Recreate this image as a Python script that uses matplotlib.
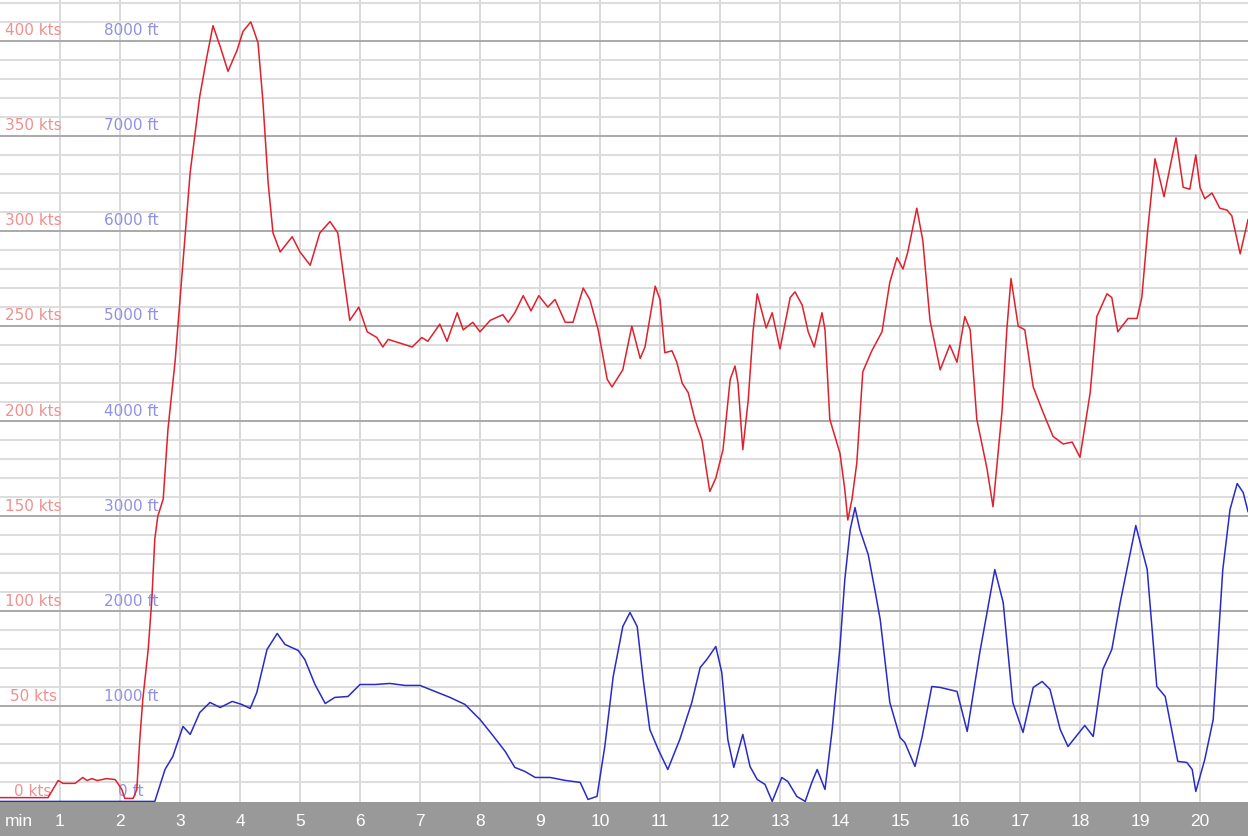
import matplotlib
matplotlib.use("Agg")
import matplotlib.pyplot as plt
import matplotlib.transforms as mtransforms
import numpy as np

# speed trace: minutes / knots
spd_t = [0, 0.8, 0.97, 1.05, 1.25, 1.38, 1.45, 1.53, 1.62, 1.78, 1.92, 2.03, 2.08, 2.22, 2.28,
         2.33, 2.38, 2.47, 2.53, 2.58, 2.63, 2.72, 2.8, 2.92, 3.0, 3.17, 3.33, 3.45, 3.55, 3.67,
         3.8, 3.95, 4.05, 4.18, 4.3, 4.38, 4.47, 4.55, 4.67, 4.87, 5.0, 5.17, 5.33, 5.5, 5.63,
         5.75, 5.83, 5.98, 6.12, 6.28, 6.38, 6.47, 6.67, 6.87, 7.03, 7.13, 7.33, 7.45, 7.62,
         7.72, 7.88, 8.0, 8.17, 8.38, 8.47, 8.58, 8.72, 8.85, 8.98, 9.13, 9.25, 9.42, 9.55,
         9.72, 9.83, 9.97, 10.12, 10.2, 10.38, 10.53, 10.67, 10.75, 10.92, 11.0, 11.08, 11.2,
         11.28, 11.37, 11.47, 11.58, 11.7, 11.77, 11.83, 11.93, 12.05, 12.17, 12.25, 12.3,
         12.38, 12.47, 12.55, 12.62, 12.77, 12.87, 13.0, 13.17, 13.25, 13.37, 13.47, 13.57,
         13.7, 13.75, 13.83, 14.0, 14.08, 14.13, 14.2, 14.28, 14.38, 14.53, 14.7, 14.83, 14.95,
         15.05, 15.13, 15.28, 15.38, 15.5, 15.67, 15.83, 15.95, 16.08, 16.17, 16.28, 16.45,
         16.55, 16.7, 16.78, 16.85, 16.97, 17.08, 17.22, 17.38, 17.55, 17.72, 17.87, 18.0,
         18.17, 18.28, 18.45, 18.53, 18.63, 18.8, 18.95, 19.03, 19.13, 19.25, 19.4, 19.6,
         19.72, 19.83, 19.93, 20.0, 20.08, 20.2, 20.33, 20.45, 20.53, 20.67, 20.8]
spd_kts = [2, 2, 11, 9.5, 9.5, 12.6, 11, 12, 11, 12, 11.5, 6.3, 1.6, 1.6, 6.3,
           32.6, 53.6, 80, 106, 138, 150, 159, 196, 232, 264, 331, 371, 392, 408, 397,
           384, 395, 405, 410, 399, 369, 325, 299, 289, 297, 289, 282, 299, 305, 299,
           271, 253, 260, 247, 244, 239, 243, 241, 239, 244, 242, 251, 242, 257,
           248, 252, 247, 253, 256, 252, 257, 266, 258, 266, 260, 264, 252, 252,
           270, 264, 248, 222, 218, 227, 250, 233, 239, 271, 264, 236, 237,
           231, 220, 215, 201, 190, 175, 163, 170, 185, 222, 229, 220,
           185, 211, 247, 267, 249, 257, 238, 265, 268, 261, 247, 239,
           257, 248, 201, 183, 164, 148, 159, 178, 226, 237, 247, 273, 286,
           280, 289, 312, 295, 253, 227, 240, 231, 255, 248, 201, 175,
           155, 205, 248, 275, 250, 248, 218, 205, 192, 188, 189, 181,
           215, 255, 267, 265, 247, 254, 254, 265, 301, 338, 318, 349,
           323, 322, 340, 323, 317, 320, 312, 311, 308, 288, 306]

# altitude trace: minutes / feet
alt_t = [0, 2.58, 2.75, 2.88, 3.05, 3.17, 3.33, 3.5, 3.67, 3.87, 4.03, 4.17, 4.28, 4.45,
         4.62, 4.75, 4.97, 5.08, 5.25, 5.42, 5.58, 5.8, 6.0, 6.25, 6.5, 6.75, 7.0, 7.25,
         7.5, 7.75, 8.0, 8.2, 8.42, 8.58, 8.75, 8.92, 9.17, 9.42, 9.67, 9.8, 9.95, 10.08,
         10.22, 10.38, 10.5, 10.62, 10.72, 10.83, 10.97, 11.13, 11.33, 11.53, 11.67, 11.78,
         11.93, 12.03, 12.13, 12.23, 12.38, 12.5, 12.62, 12.75, 12.87, 13.03, 13.13, 13.28,
         13.42, 13.53, 13.62, 13.75, 13.87, 14.0, 14.08, 14.17, 14.25, 14.33, 14.47, 14.58,
         14.67, 14.83, 15.0, 15.08, 15.25, 15.37, 15.53, 15.67, 15.95, 16.12, 16.33, 16.58,
         16.72, 16.88, 17.05, 17.22, 17.37, 17.5, 17.67, 17.8, 18.08, 18.22, 18.38, 18.53,
         18.67, 18.93, 19.12, 19.28, 19.42, 19.63, 19.78, 19.87, 19.93, 20.08, 20.22, 20.38,
         20.5, 20.62, 20.72, 20.8]
alt_ft = [0, 0, 336, 473, 789, 705, 936, 1041, 988, 1052, 1020, 978, 1146, 1598,
          1767, 1651, 1588, 1493, 1230, 1030, 1094, 1104, 1230, 1230, 1241, 1220, 1220, 1157,
          1094, 1020, 862, 705, 526, 358, 315, 252, 252, 221, 200, 21, 53, 578,
          1314, 1840, 1987, 1840, 1283, 757, 547, 336, 652, 1041, 1409, 1493,
          1630, 1356, 652, 358, 705, 368, 231, 179, 0, 252, 210, 53,
          0, 200, 336, 126, 757, 1630, 2334, 2860, 3091, 2860, 2597, 2229,
          1914, 1041, 673, 620, 368, 683, 1209, 1199, 1157, 736, 1567, 2439,
          2092, 1041, 726, 1199, 1262, 1178, 757, 578, 799, 683, 1388, 1598,
          2092, 2902, 2439, 1209, 1104, 421, 410, 336, 105, 442, 862, 2439,
          3070, 3344, 3249, 3049]

kts_labels = [0, 50, 100, 150, 200, 250, 300, 350, 400]
ft_labels = [0, 1000, 2000, 3000, 4000, 5000, 6000, 7000, 8000]
minute_ticks = list(range(1, 21))

W, H = 1248, 836
bar_h = 34
fig = plt.figure(figsize=(W / 100, H / 100), dpi=100)
ax = fig.add_axes([0, bar_h / H, 1, (H - bar_h) / H])
ax.set_xlim(0, 20.8)
ax.set_ylim(-0.3, 421.5)
ax.set_facecolor("white")
for s in ax.spines.values():
    s.set_visible(False)
ax.set_xticks([])
ax.set_yticks([])

# grid
for m in minute_ticks:
    ax.axvline(m, color="#d9d9d9", lw=1.4, zorder=0)
for v in range(10, 421, 10):
    if v % 50 == 0:
        ax.axhline(v, color="#a9a9a9", lw=1.4, zorder=0.5)
    else:
        ax.axhline(v, color="#dddddd", lw=1.4, zorder=0.2)

# axis labels inside plot
tr = mtransforms.blended_transform_factory(ax.transAxes, ax.transData)
for k, f in zip(kts_labels, ft_labels):
    ax.annotate(f"{k} kts", xy=(33 / W, k), xycoords=tr, xytext=(0, 7.3),
                textcoords="offset points", ha="center", va="center",
                color="#f09090", fontsize=11, family="DejaVu Sans", zorder=1)
    ax.annotate(f"{f} ft", xy=(131 / W, k), xycoords=tr, xytext=(0, 7.3),
                textcoords="offset points", ha="center", va="center",
                color="#9090e6", fontsize=11, family="DejaVu Sans", zorder=1)

ax.plot(spd_t, spd_kts, color="#e0202c", lw=1.1, zorder=3)

ax2 = ax.twinx()
ax2.set_ylim(-0.3 * 20, 421.5 * 20)
ax2.set_axis_off()
ax2.plot(alt_t, alt_ft, color="#2a2ac8", lw=1.1, zorder=3)

# bottom time bar
axb = fig.add_axes([0, 0, 1, bar_h / H])
axb.set_xlim(0, 20.8)
axb.set_ylim(0, 1)
axb.set_facecolor("#999999")
for s in axb.spines.values():
    s.set_visible(False)
axb.set_xticks([])
axb.set_yticks([])
axb.text(5 / W * 20.8, 0.42, "min", color="white", fontsize=12.5,
         family="Liberation Sans", ha="left", va="center")
for m in minute_ticks:
    axb.text(m, 0.42, str(m), color="white", fontsize=12.5,
             family="Liberation Sans", ha="center", va="center")

fig.savefig("out.png", dpi=100)
